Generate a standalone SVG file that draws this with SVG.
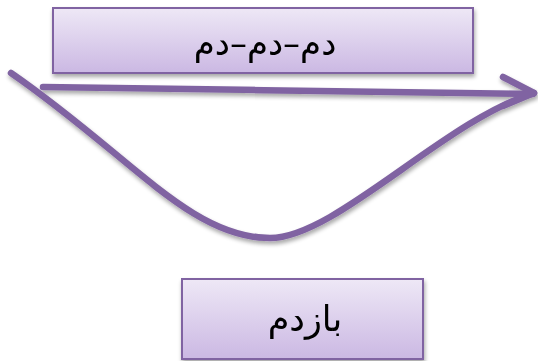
<svg xmlns="http://www.w3.org/2000/svg" width="538" height="361" viewBox="0 0 538 361">
<defs>
<linearGradient id="g" x1="0" y1="0" x2="0" y2="1">
<stop offset="0" stop-color="#EEE8F6"/>
<stop offset="1" stop-color="#CBB8E3"/>
</linearGradient>
<filter id="sh" x="-10%" y="-20%" width="120%" height="150%">
<feGaussianBlur in="SourceAlpha" stdDeviation="2"/>
<feOffset dx="1" dy="3" result="b"/>
<feComponentTransfer><feFuncA type="linear" slope="0.35"/></feComponentTransfer>
<feMerge><feMergeNode/><feMergeNode in="SourceGraphic"/></feMerge>
</filter>
</defs>
<style>
.box{fill:url(#g);stroke:#8064A2;stroke-width:2}
.t{font-family:"DejaVu Sans","Noto Sans",sans-serif;fill:#000;text-anchor:middle}
.c{fill:none;stroke:#8064A2;stroke-width:6.5;stroke-linecap:round;stroke-linejoin:round}
</style>
<g id="node-top" filter="url(#sh)">
<rect class="box" x="53" y="8" width="420" height="65"/>
<text class="t" x="265" y="55" font-size="34" direction="rtl">دم–دم–دم</text>
</g>
<g id="node-bottom" filter="url(#sh)">
<rect class="box" x="182" y="279" width="241" height="80"/>
<text class="t" x="305" y="331" font-size="35" direction="rtl">بازدم</text>
</g>
<g id="connectors" filter="url(#sh)">
<path class="c" d="M43,87 L533,94"/>
<path class="c" d="M503,77 L534,93 L503,106"/>
<path class="c" d="M11,73 C130,155 190,238 270,238 C335,238 445,120 534,93"/>
</g>
</svg>
